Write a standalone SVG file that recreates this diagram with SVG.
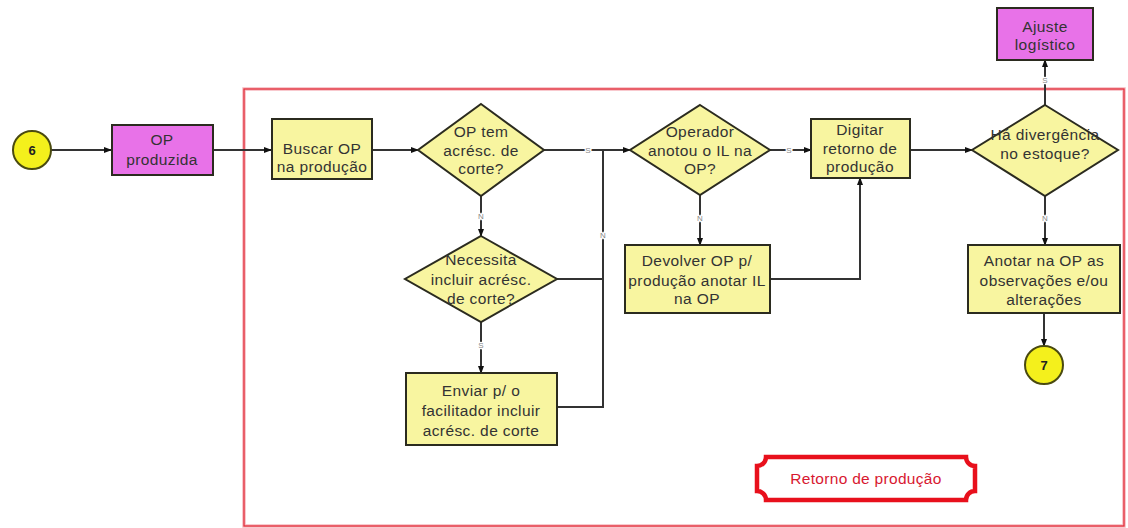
<svg xmlns="http://www.w3.org/2000/svg" width="1128" height="528" viewBox="0 0 1128 528">
  <style>
    .box { fill: #F8F5A0; stroke: #2b2b1f; stroke-width: 2; }
    .ext { fill: #E872E8; stroke: #2b2b1f; stroke-width: 2; }
    .dec { fill: #F8F5A0; stroke: #2b2b1f; stroke-width: 2; }
    .ref { fill: #F4F01C; stroke: #4a4a10; stroke-width: 2; }
    .t { font-family: "Liberation Sans", Arial, sans-serif; font-size: 15.5px; fill: #333; text-anchor: middle; letter-spacing: 0.4px; }
    .n { font-family: "Liberation Sans", Arial, sans-serif; font-size: 13px; fill: #222; text-anchor: middle; font-weight: bold; }
    .lbl { font-family: "Liberation Sans", Arial, sans-serif; font-size: 8px; fill: #888; text-anchor: middle; stroke: #fff; stroke-width: 2.5px; paint-order: stroke; }
    .c { fill: none; stroke: #333; stroke-width: 2; marker-end: url(#dot); }
    .c2 { fill: none; stroke: #333; stroke-width: 2; }
  </style>
  <defs>
    <marker id="dot" viewBox="0 0 8 8" refX="7" refY="4" markerWidth="4" markerHeight="4" markerUnits="strokeWidth" orient="auto">
      <path d="M0,1 L8,4 L0,7 Z" fill="#111"/>
    </marker>
  </defs>

  <rect width="1128" height="528" fill="#fff"/>

  <!-- swimlane frame -->
  <g id="frame">
    <rect x="244" y="89" width="880" height="437" fill="none" stroke="#F6B8BE" stroke-width="3.5"/>
    <rect x="244" y="89" width="880" height="437" fill="none" stroke="#E2303C" stroke-width="1.3"/>
  </g>

  <!-- connectors -->
  <g id="connectors">
    <path class="c" d="M51,150 H111"/>
    <path class="c" d="M213,150 H271"/>
    <path class="c" d="M372,150 H418"/>
    <path class="c" d="M544,150 H630"/>
    <path class="c" d="M481,195 V236"/>
    <path class="c2" d="M557,279 H603 V150"/>
    <path class="c" d="M481,322 V373"/>
    <path class="c2" d="M557,407 H603 V279"/>
    <path class="c" d="M770,150 H811"/>
    <path class="c" d="M700,195 V245"/>
    <path class="c" d="M770,279 H860 V178"/>
    <path class="c" d="M910,150 H972"/>
    <path class="c" d="M1045,105 V60"/>
    <path class="c" d="M1045,195 V245"/>
    <path class="c" d="M1044,313 V346"/>
    <text class="lbl" x="588" y="153">S</text>
    <text class="lbl" x="481" y="219">N</text>
    <text class="lbl" x="603" y="238">N</text>
    <text class="lbl" x="481" y="348">S</text>
    <text class="lbl" x="789" y="153">S</text>
    <text class="lbl" x="700" y="221">N</text>
    <text class="lbl" x="1045" y="83">S</text>
    <text class="lbl" x="1045" y="221">N</text>
  </g>

  <g id="ref6">
    <circle class="ref" cx="32" cy="150" r="19"/>
    <text class="n" x="32" y="155">6</text>
  </g>

  <g id="op-produzida">
    <rect class="ext" x="112" y="125" width="101" height="50"/>
    <text class="t" x="162" y="145">OP</text>
    <text class="t" x="162" y="165">produzida</text>
  </g>

  <g id="buscar-op">
    <rect class="box" x="272" y="119" width="100" height="60"/>
    <text class="t" x="322" y="154">Buscar OP</text>
    <text class="t" x="322" y="172">na produção</text>
  </g>

  <g id="dec-acresc">
    <polygon class="dec" points="481,104 544,150 481,196 418,150"/>
    <text class="t" x="481" y="137">OP tem</text>
    <text class="t" x="481" y="156">acrésc. de</text>
    <text class="t" x="481" y="174">corte?</text>
  </g>

  <g id="dec-incluir">
    <polygon class="dec" points="481,236 557,279 481,322 405,279"/>
    <text class="t" x="481" y="265">Necessita</text>
    <text class="t" x="481" y="285">incluir acrésc.</text>
    <text class="t" x="481" y="304">de corte?</text>
  </g>

  <g id="enviar">
    <rect class="box" x="406" y="373" width="151" height="72"/>
    <text class="t" x="481" y="396">Enviar p/ o</text>
    <text class="t" x="481" y="416">facilitador incluir</text>
    <text class="t" x="481" y="436">acrésc. de corte</text>
  </g>

  <g id="dec-operador">
    <polygon class="dec" points="700,105 770,150 700,195 630,150"/>
    <text class="t" x="700" y="137">Operador</text>
    <text class="t" x="700" y="156">anotou o IL na</text>
    <text class="t" x="700" y="174">OP?</text>
  </g>

  <g id="devolver">
    <rect class="box" x="625" y="245" width="145" height="68"/>
    <text class="t" x="697" y="266">Devolver OP p/</text>
    <text class="t" x="697" y="286">produção anotar IL</text>
    <text class="t" x="697" y="304">na OP</text>
  </g>

  <g id="digitar">
    <rect class="box" x="811" y="119" width="99" height="59"/>
    <text class="t" x="860" y="135">Digitar</text>
    <text class="t" x="860" y="154">retorno de</text>
    <text class="t" x="860" y="172">produção</text>
  </g>

  <g id="dec-divergencia">
    <polygon class="dec" points="1045,105 1118,150 1045,196 972,150"/>
    <text class="t" x="1045" y="140">Há divergência</text>
    <text class="t" x="1045" y="159">no estoque?</text>
  </g>

  <g id="ajuste">
    <rect class="ext" x="997" y="8" width="96" height="52"/>
    <text class="t" x="1045" y="32">Ajuste</text>
    <text class="t" x="1045" y="50">logístico</text>
  </g>

  <g id="anotar">
    <rect class="box" x="968" y="245" width="152" height="68"/>
    <text class="t" x="1044" y="266">Anotar na OP as</text>
    <text class="t" x="1044" y="286">observações e/ou</text>
    <text class="t" x="1044" y="305">alterações</text>
  </g>

  <g id="ref7">
    <circle class="ref" cx="1044" cy="365" r="19"/>
    <text class="n" x="1044" y="370">7</text>
  </g>

  <!-- lane title -->
  <g id="lane-title">
    <path d="M766,457 H966 A9 9 0 0 0 975,466 V491 A9 9 0 0 0 966,500 H766 A9 9 0 0 0 757,491 V466 A9 9 0 0 0 766,457 Z" fill="#fff" stroke="#E8101C" stroke-width="4.5"/>
    <text x="866" y="484" font-family="Liberation Sans, Arial, sans-serif" font-size="15.5" fill="#D81830" text-anchor="middle" letter-spacing="0.3">Retorno de produção</text>
  </g>
</svg>
